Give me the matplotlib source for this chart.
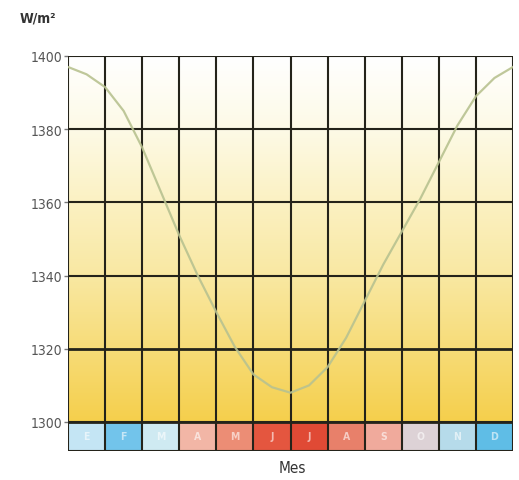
import numpy as np
import matplotlib.pyplot as plt
from matplotlib.colors import LinearSegmentedColormap

# mean solar irradiance over the year, read at half-month steps
month_pos = [0, 0.5, 1, 1.5, 2, 2.5, 3, 3.5, 4, 4.5, 5, 5.5, 6,
             6.5, 7, 7.5, 8, 8.5, 9, 9.5, 10, 10.5, 11, 11.5, 12]
irradiance = [1397, 1395, 1391.5, 1385, 1375, 1363, 1351, 1340, 1330, 1320.5, 1313, 1309.5, 1308,
              1310, 1315, 1323, 1333, 1343, 1352, 1361, 1371, 1381, 1389, 1394, 1397]

months = ["E", "F", "M", "A", "M", "J", "J", "A", "S", "O", "N", "D"]
month_colors = ["#c4e5f4", "#72c4eb", "#cfeaf2", "#f2b6a6", "#ec8d75", "#e4563f",
                "#e04a35", "#e8806a", "#f0aa9c", "#ddd2d6", "#b6dbea", "#5fbde6"]

yticks = [1300, 1320, 1340, 1360, 1380, 1400]

W, H = 519, 481
fig = plt.figure(figsize=(W / 100, H / 100), dpi=100)
plt.rcParams['font.family'] = ['DejaVu Sans']
plt.rcParams['font.stretch'] = 'condensed'

ax = fig.add_axes([68 / W, 1 - 423 / H, (513 - 68) / W, (423 - 57) / H])
strip = fig.add_axes([68 / W, 1 - 452 / H, (513 - 68) / W, (452 - 423) / H])

# background gradient white (top) -> yellow (bottom)
grad_cmap = LinearSegmentedColormap.from_list("sun", [
    (0.0, "#ffffff"), (0.2, "#fdfae6"), (0.4, "#fbf1c2"),
    (0.6, "#f9e8a2"), (0.8, "#f7dc78"), (1.0, "#f5cf4c")])
grad = np.linspace(1, 0, 256).reshape(-1, 1)
ax.imshow(grad, cmap=grad_cmap, vmin=0, vmax=1, aspect="auto",
          extent=[0, 12, 1300, 1400], origin="lower", zorder=0)

line_col = "#24231a"
for x in range(13):
    ax.axvline(x, color=line_col, lw=1.5, zorder=2)
for y in yticks:
    ax.axhline(y, color=line_col, lw=2.0 if y == 1320 else 1.5, zorder=2)

ax.plot(month_pos, irradiance, color="#b8c290", lw=1.6, alpha=0.9, zorder=3)

ax.set_xlim(0, 12)
ax.set_ylim(1300, 1400)
ax.set_xticks([])
ax.set_yticks(yticks)
ax.set_yticklabels([str(v) for v in yticks], fontsize=10, color="#555555")
ax.tick_params(axis="y", length=3, width=1, color="#777777", pad=1)
for s in ax.spines.values():
    s.set_visible(False)

# month strip
for i, (m, c) in enumerate(zip(months, month_colors)):
    strip.axvspan(i, i + 1, color=c, zorder=0)
    strip.text(i + 0.5, 0.5, m, ha="center", va="center", color="white",
               fontsize=7.5, fontweight="bold", alpha=0.6)
for x in range(13):
    strip.axvline(x, color=line_col, lw=1.5)
strip.axhline(0, color=line_col, lw=1.5)
strip.axhline(1, color=line_col, lw=2.0)
strip.set_xlim(0, 12)
strip.set_ylim(0, 1)
strip.axis("off")

fig.text(20 / W, 1 - 19 / H, "W/m²", fontsize=10, fontweight="bold", color="#333333",
         ha="left", va="center")
fig.text(292 / W, 1 - 469 / H, "Mes", fontsize=11, color="#333333", ha="center", va="center")

fig.savefig("out.png", dpi=100)
